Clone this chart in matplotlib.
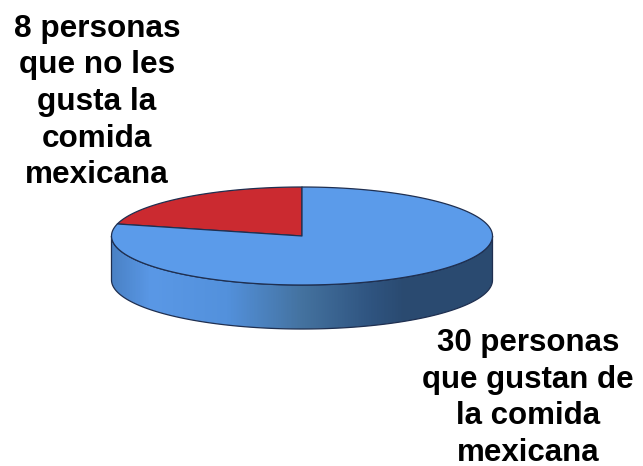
import numpy as np
import matplotlib
matplotlib.use('Agg')
import matplotlib.pyplot as plt
from matplotlib.colors import LinearSegmentedColormap
from matplotlib.patches import Polygon

plt.rcParams['font.family'] = ['Liberation Sans', 'DejaVu Sans']

# survey counts
values = [8, 30]
labels = ['8 personas\nque no les\ngusta la\ncomida\nmexicana',
          '30 personas\nque gustan de\nla comida\nmexicana']
slice_colors = ['#cb2a30', '#5b9bea']

# side wall shading, left to right
side_stops = [0.0, 0.1, 0.3, 0.5, 0.68, 0.77, 1.0]
side_colors = ['#4a82c6', '#5a98e6', '#5391dc', '#44729f', '#2f5480', '#2a4a70', '#2b4b71']

cx, cy = 302, 236
rx, ry = 190.5, 49
depth = 44
edge = '#1f2f50'

fig = plt.figure(figsize=(6.43, 4.66), dpi=100)
ax = fig.add_axes([0, 0, 1, 1])
ax.set_xlim(0, 643)
ax.set_ylim(466, 0)
ax.axis('off')


def rim(a0, a1, dy=0.0, n=200):
    # points along the ellipse, angles counterclockwise from the right
    t = np.radians(np.linspace(a0, a1, n))
    return np.column_stack([cx + rx * np.cos(t), cy - ry * np.sin(t) + dy])


# side wall: lower half of the top rim plus the same arc shifted down
wall = np.vstack([rim(180, 360), rim(360, 180, dy=depth)])
cmap = LinearSegmentedColormap.from_list('side', list(zip(side_stops, side_colors)))
im = ax.imshow(np.linspace(0, 1, 400).reshape(1, -1), cmap=cmap, aspect='auto',
               extent=[cx - rx, cx + rx, cy + ry + depth, cy], zorder=1)
clip = Polygon(wall, closed=True, transform=ax.transData, facecolor='none', edgecolor='none')
ax.add_patch(clip)
im.set_clip_path(clip)
ax.set_xlim(0, 643)
ax.set_ylim(466, 0)
ax.add_patch(Polygon(wall, closed=True, facecolor='none', edgecolor=edge, lw=0.9, zorder=2))

# top face, first slice starts at twelve o'clock and runs counterclockwise
start = 90.0
for v, color in zip(values, slice_colors):
    sweep = 360.0 * v / sum(values)
    pts = np.vstack([[cx, cy], rim(start, start + sweep)])
    ax.add_patch(Polygon(pts, closed=True, facecolor=color, edgecolor=edge,
                         lw=0.9, joinstyle='round', zorder=3))
    start += sweep

ax.text(97, 102, labels[0], ha='center', va='center', fontsize=22.7, fontweight='bold',
        color='black', linespacing=1.29)
ax.text(528, 398, labels[1], ha='center', va='center', fontsize=22.5, fontweight='bold',
        color='black', linespacing=1.28)

fig.savefig('out.png', dpi=100)
